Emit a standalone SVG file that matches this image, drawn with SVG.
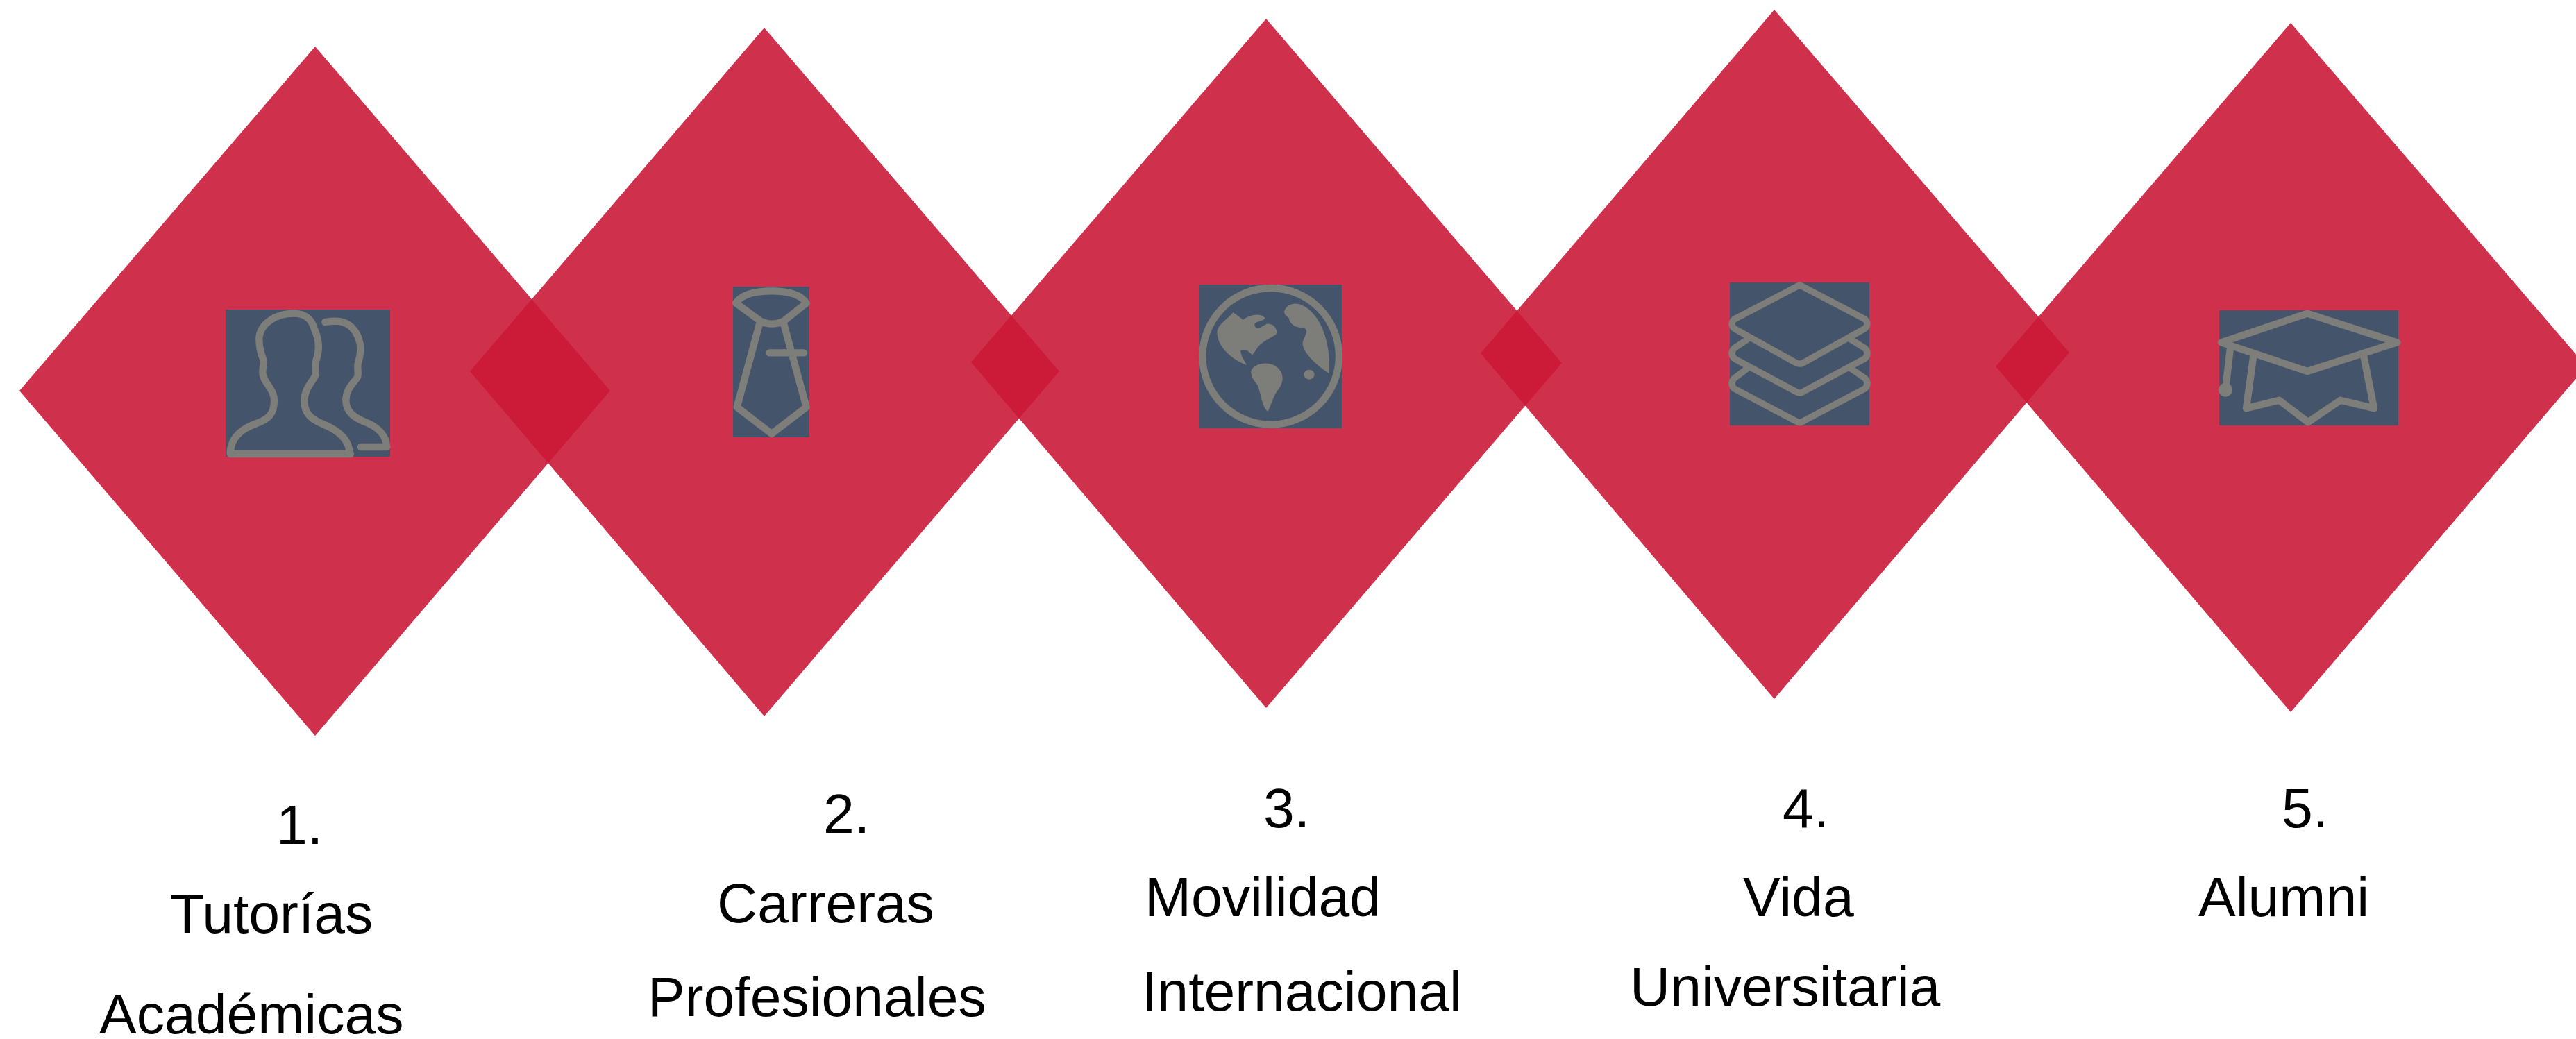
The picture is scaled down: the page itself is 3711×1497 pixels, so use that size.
<svg xmlns="http://www.w3.org/2000/svg" width="3711" height="1497" viewBox="0 0 3711 1497">
<style>
.d{fill:#ca1937;fill-opacity:.9}
.b{fill:#44546a}
.i{fill:none;stroke:#7d7e79;stroke-linejoin:round;stroke-linecap:round}
.f{fill:#7d7e79;stroke:none}
text{font-family:"Liberation Sans",Arial,sans-serif;font-size:80.5px;fill:#000}
</style>
<rect width="3711" height="1497" fill="#fff"/>
<g id="node-1">
<polygon class="d" points="454,67 879,563 454,1060 28,563"/>
<rect class="b" x="325" y="446" width="237" height="212"/>
<g transform="translate(280,400) scale(.3333)" class="i" stroke-width="31">
<path d="M155,762H675M155,762C155,690 210,650 270,630C320,612 345,590 345,530C345,480 295,450 295,410C295,380 305,370 295,345C280,310 280,280 280,260C285,200 350,155 430,155C490,155 510,190 520,225C540,270 540,310 530,345C520,370 525,400 525,420C510,450 475,480 475,535C475,590 510,615 560,635C620,660 670,700 672,762"/>
<path d="M565,192C610,185 650,185 680,215C720,255 725,310 710,360C700,385 712,410 705,430C690,455 655,480 655,530C655,580 690,605 740,625C790,645 830,680 832,732H720"/>
</g>
<text x="398" y="1216">1.</text>
<text x="245" y="1344">Tutorías</text>
<text x="143" y="1489">Académicas</text>
</g>
<g id="node-2">
<polygon class="d" points="1101,40 1526,535 1101,1032 677,535"/>
<rect class="b" x="1056" y="413" width="110" height="217"/>
<g transform="translate(1000,380) scale(.3333)" class="i" stroke-width="31">
<path d="M180,170C210,125 280,118 335,118C400,118 460,130 485,170L385,250Q335,270 290,250Z"/>
<path d="M285,250L185,620L335,735L485,620L385,250M325,385H475"/>
</g>
<text x="1186" y="1200">2.</text>
<text x="1033" y="1329">Carreras</text>
<text x="933" y="1464">Profesionales</text>
</g>
<g id="node-3">
<polygon class="d" points="1824,27 2250,523 1824,1020 1399,522"/>
<rect class="b" x="1728" y="410" width="205" height="207"/>
<g transform="translate(1700,390) scale(.3333)">
<circle class="i" cx="392" cy="370" r="295" stroke-width="31"/>
<path class="f" d="M230,180L272,212C300,190 350,180 368,205C355,225 320,215 322,238C335,262 350,240 375,230C405,228 425,255 415,275C385,295 345,310 330,340L312,365C298,350 285,335 262,345C262,370 280,390 288,408C225,385 160,330 160,265C165,230 200,215 230,180Z"/>
<path class="f" d="M308,430C325,395 405,385 435,435C452,465 440,495 420,520C400,550 395,580 380,608C355,595 350,530 335,495C315,470 303,450 308,430Z"/>
<path class="f" d="M450,175C470,130 520,135 560,170C620,225 650,320 645,445C590,410 525,350 530,310C535,285 560,260 535,245C505,250 475,235 470,205C460,195 450,190 450,175Z"/>
<ellipse class="f" cx="558" cy="449" rx="23" ry="21"/>
</g>
<text x="1820" y="1192">3.</text>
<text x="1649" y="1320">Movilidad</text>
<text x="1645" y="1456">Internacional</text>
</g>
<g id="node-4">
<polygon class="d" points="2556,14 2981,508 2556,1007 2133,509"/>
<rect class="b" x="2492" y="407" width="201" height="206"/>
<g transform="translate(2460,390) scale(.3333)" class="i" stroke-width="28">
<path d="M398,62L680,210Q700,230 680,250L410,400Q398,405 385,400L115,250Q95,230 115,210Z"/>
<path d="M175,295L115,335Q95,358 115,380L385,525Q398,532 410,525L680,380Q700,358 680,335L615,295"/>
<path d="M175,420L115,465Q95,487 115,510L385,652Q398,660 410,652L680,510Q700,487 680,465L615,420"/>
</g>
<text x="2568" y="1192">4.</text>
<text x="2511" y="1320">Vida</text>
<text x="2348" y="1449">Universitaria</text>
</g>
<g id="node-5">
<polygon class="d" points="3300,33 3726,528 3300,1026 2875,528"/>
<rect class="b" x="3197" y="447" width="258" height="166"/>
<g transform="translate(3170,420) scale(.3333)">
<g class="i" stroke-width="31">
<path d="M462,95L850,220L462,345L90,220Z"/>
<path d="M130,235L108,425"/>
<path d="M230,270L198,505L340,470L465,565L605,470L750,505L705,275"/>
</g>
<circle class="f" cx="108" cy="425" r="30"/>
</g>
<text x="3287" y="1192">5.</text>
<text x="3167" y="1320">Alumni</text>
</g>
</svg>
